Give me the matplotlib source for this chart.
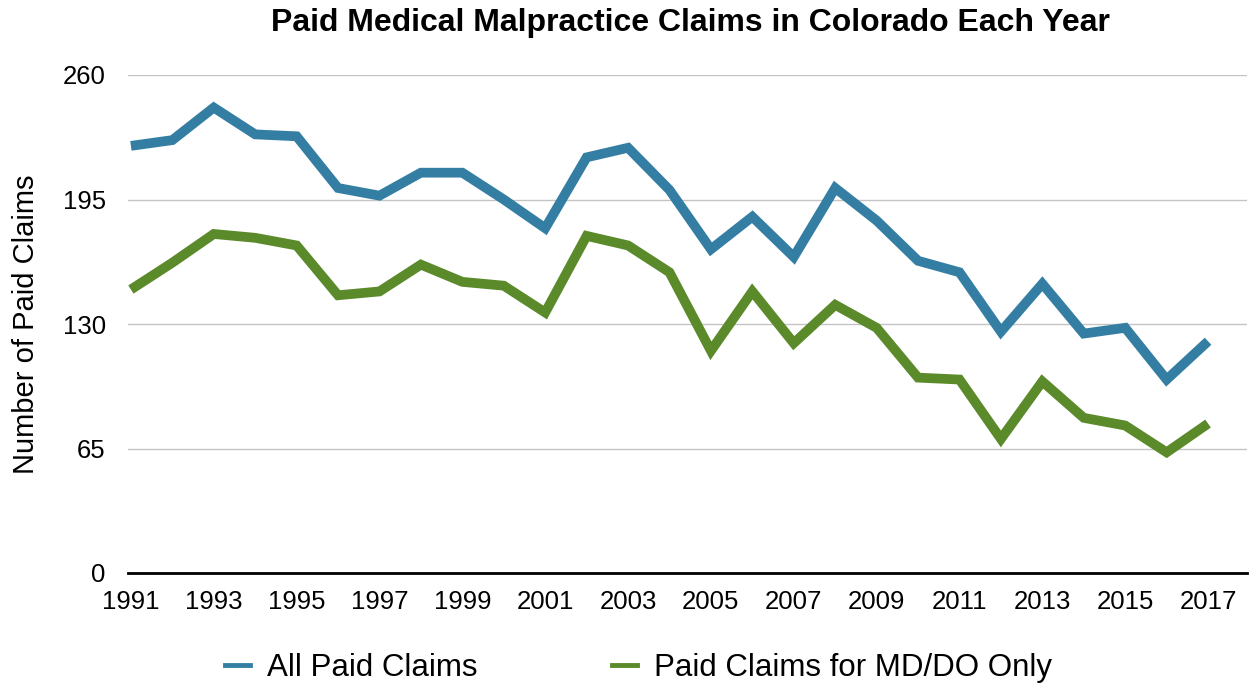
import matplotlib
matplotlib.use("Agg")
import matplotlib.pyplot as plt
from matplotlib.lines import Line2D

years = list(range(1991, 2018))
all_paid = [223, 226, 243, 229, 228, 201, 197, 209, 209, 195, 180, 217, 222, 200, 169, 186, 165, 201, 184, 163, 157, 126, 151, 125, 128, 101, 121]
md_do = [148, 162, 177, 175, 171, 145, 147, 161, 152, 150, 136, 176, 171, 157, 116, 147, 120, 140, 128, 102, 101, 70, 100, 81, 77, 63, 78]
yticks = [0, 65, 130, 195, 260]
xticks = list(range(1991, 2018, 2))

plt.rcParams['font.family'] = ['Liberation Sans', 'DejaVu Sans']

fig = plt.figure(figsize=(12.49, 6.89), dpi=100)
ax = fig.add_axes([128/1249, 1 - 573/689, (1247-128)/1249, (573-75)/689])

blue = '#357ea3'
green = '#5a8a2a'
ax.plot(years, all_paid, color=blue, lw=7, solid_joinstyle='miter', solid_capstyle='butt', zorder=3)
ax.plot(years, md_do, color=green, lw=7, solid_joinstyle='miter', solid_capstyle='butt', zorder=3)

ax.set_xlim(1990.93, 2017.94)
ax.set_ylim(0, 260)
ax.set_yticks(yticks)
ax.set_xticks(xticks)
ax.set_xticklabels([str(x) for x in xticks], fontsize=18.5)
ax.set_yticklabels([str(y) for y in yticks], fontsize=18.5)
ax.tick_params(axis='x', length=0, pad=12)
ax.tick_params(axis='y', length=0, pad=16)
ax.grid(axis='y', color='#c4c4c4', lw=1)
ax.set_axisbelow(True)
for s in ['top', 'right', 'left']:
    ax.spines[s].set_visible(False)
ax.spines['bottom'].set_color('black')
ax.spines['bottom'].set_linewidth(2)
ax.spines['bottom'].set_zorder(4)

ax.set_ylabel('Number of Paid Claims', fontsize=21, labelpad=16)
fig.text(0.553, 1 - 23/689, 'Paid Medical Malpractice Claims in Colorado Each Year',
         ha='center', va='center', fontsize=23, fontweight='bold')

handles = [Line2D([], [], color=blue, lw=3.5), Line2D([], [], color=green, lw=3.5)]
fig.legend(handles, ['All Paid Claims', 'Paid Claims for MD/DO Only'], loc='center',
           bbox_to_anchor=(0.511, 1 - 668/689), ncol=2, frameon=False, fontsize=22.5,
           handlelength=0.8, columnspacing=4.3, handletextpad=0.55)

fig.savefig('out.png', dpi=100)
